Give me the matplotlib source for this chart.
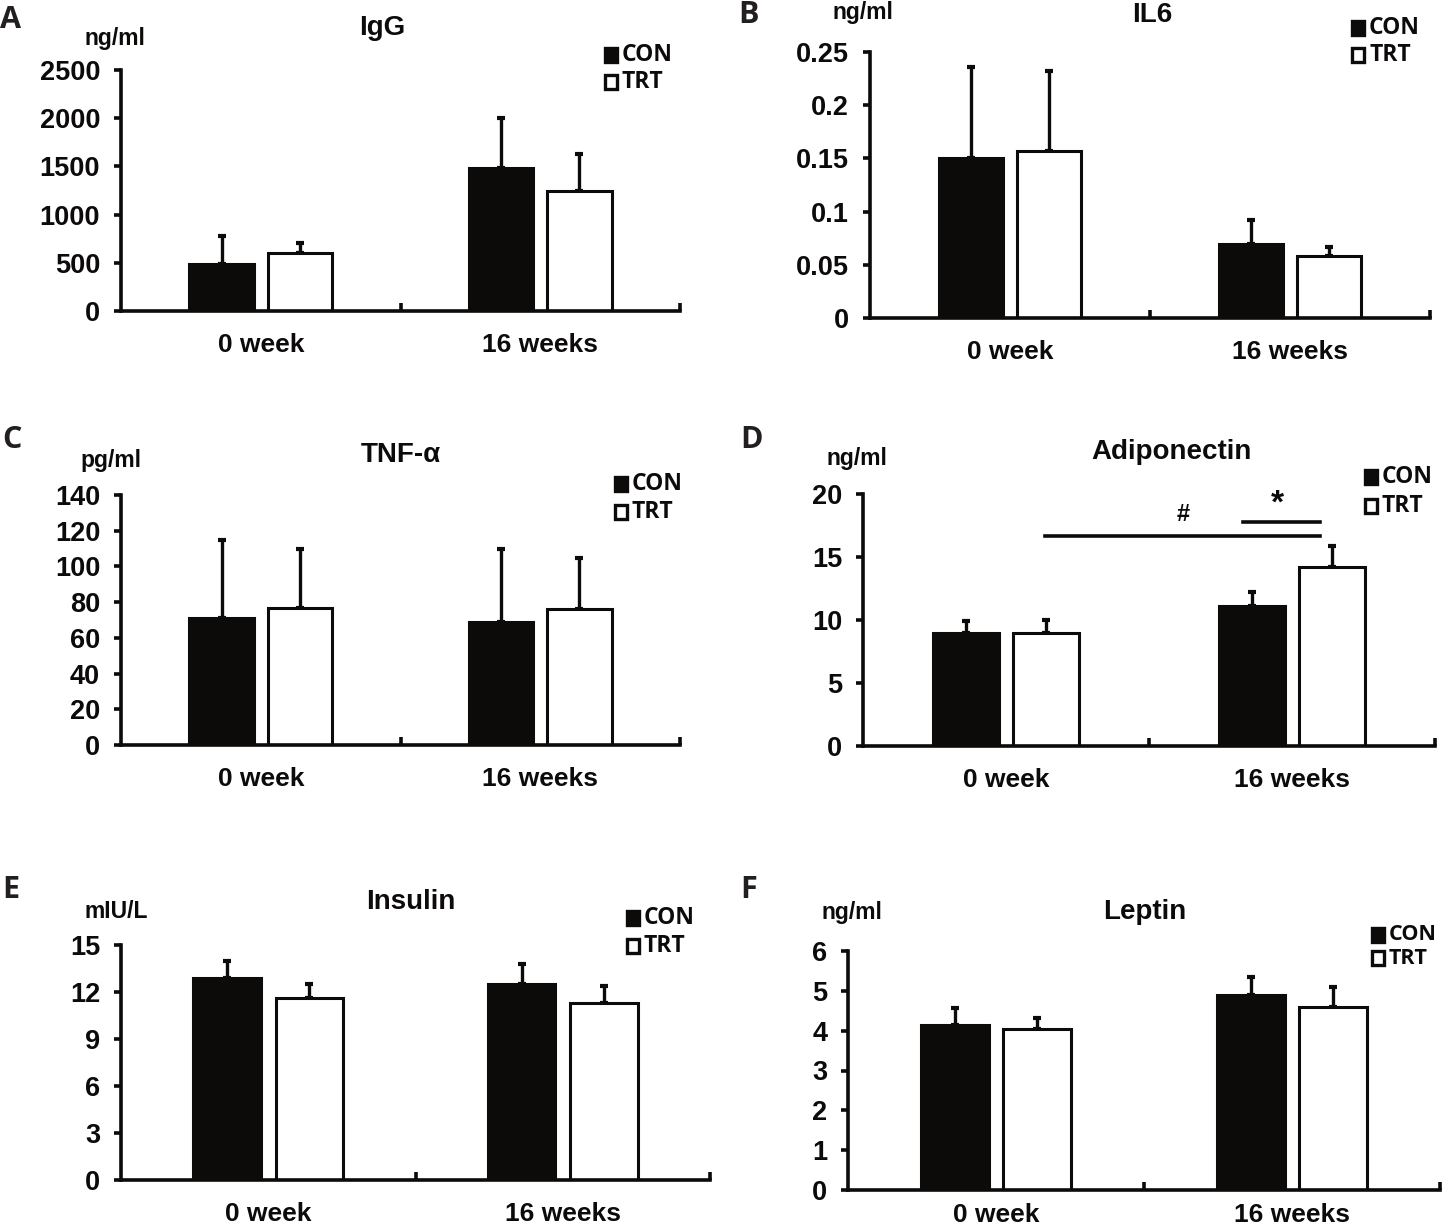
import matplotlib
matplotlib.use("Agg")
import matplotlib.pyplot as plt
from matplotlib.patches import Rectangle

W, H = 1450, 1230

groups = ["0 week", "16 weeks"]
series = ["CON", "TRT"]

# mean values and upper error (SEM) per panel, [0 week, 16 weeks]
igg_con, igg_con_err = [490, 1480], [290, 520]
igg_trt, igg_trt_err = [600, 1240], [105, 385]
il6_con, il6_con_err = [0.150, 0.070], [0.086, 0.022]
il6_trt, il6_trt_err = [0.157, 0.058], [0.075, 0.009]
tnf_con, tnf_con_err = [71, 69], [44, 41]
tnf_trt, tnf_trt_err = [77, 76], [33, 29]
adi_con, adi_con_err = [9.0, 11.1], [0.9, 1.1]
adi_trt, adi_trt_err = [9.0, 14.2], [1.0, 1.7]
ins_con, ins_con_err = [12.9, 12.5], [1.1, 1.3]
ins_trt, ins_trt_err = [11.6, 11.3], [0.9, 1.1]
lep_con, lep_con_err = [4.15, 4.9], [0.43, 0.45]
lep_trt, lep_trt_err = [4.05, 4.6], [0.27, 0.5]

igg_ticks = [0, 500, 1000, 1500, 2000, 2500]
il6_ticks = [0, 0.05, 0.1, 0.15, 0.2, 0.25]
il6_ticklabels = ["0", "0.05", "0.1", "0.15", "0.2", "0.25"]
tnf_ticks = [0, 20, 40, 60, 80, 100, 120, 140]
adi_ticks = [0, 5, 10, 15, 20]
ins_ticks = [0, 3, 6, 9, 12, 15]
lep_ticks = [0, 1, 2, 3, 4, 5, 6]

# significance marks in Adiponectin panel
sig_long_x, sig_long_y = [0.136, 1.098], 16.7
sig_short_x, sig_short_y = [0.829, 1.098], 17.8
sig_hash_xy = (0.62, 18.4)
sig_star_xy = (0.95, 19.2)

BOLD = ["Liberation Sans", "DejaVu Sans"]
LETTER = ["Open Sans", "DejaVu Sans"]
INK = "#0d0a0a"

fig = plt.figure(figsize=(W / 100, H / 100), dpi=100)


def fx(px):
    return px / W


def fy(py):
    return 1 - py / H


def panel(box, con, con_err, trt, trt_err, ticks, ticklabels, title, unit,
          letter, lay):
    left, right, y0, ytop = box
    ax = fig.add_axes([fx(left), fy(y0), fx(right - left), (y0 - ytop) / H])
    x = [0, 1]
    off, bw = 0.14, 0.23
    xc = [v - off for v in x]
    xt = [v + off for v in x]
    ax.bar(xc, con, bw, color=INK, edgecolor=INK, linewidth=2.2, zorder=2)
    ax.bar(xt, trt, bw, color="white", edgecolor=INK, linewidth=2.2, zorder=2)
    for xs, m, e in ((xc, con, con_err), (xt, trt, trt_err)):
        ax.errorbar(xs, m, yerr=[[0, 0], e], fmt="none", ecolor=INK,
                    elinewidth=2.4, capsize=3, capthick=3, zorder=1)
    ax.set_xlim(-0.5, 1.5)
    ax.set_ylim(ticks[0], ticks[-1])
    for s in ("top", "right"):
        ax.spines[s].set_visible(False)
    for s in ("left", "bottom"):
        ax.spines[s].set_linewidth(2.6)
        ax.spines[s].set_color(INK)
    ax.set_yticks(ticks)
    ax.set_yticklabels(ticklabels, fontfamily=BOLD, fontweight="bold",
                       fontsize=19.5, color=INK)
    ax.tick_params(axis="y", length=5, width=2.6, color=INK, pad=10)
    ax.set_xticks([0.5, 1.5])
    ax.set_xticklabels([])
    ax.tick_params(axis="x", direction="in", length=6, width=2.6, color=INK)
    ax.set_xticks(x, minor=True)
    ax.set_xticklabels(groups, minor=True, fontfamily=BOLD,
                       fontweight="bold", fontsize=19, color=INK)
    ax.tick_params(axis="x", which="minor", length=0, pad=lay["pad"])
    for t in ax.get_xticklines() + ax.get_yticklines():
        t.set_clip_on(False)

    tx, ty = lay["title"]
    fig.text(fx(tx), fy(ty), title, ha="center", va="center",
             fontfamily=BOLD, fontweight="bold", fontsize=20, color=INK)
    ux, uy = lay["unit"]
    fig.text(fx(ux), fy(uy), unit, ha="left", va="center",
             fontfamily=BOLD, fontweight="bold", fontsize=16.5, color=INK)
    lx, ly = lay["letter"]
    fig.text(fx(lx), fy(ly), letter, ha="left", va="center",
             fontfamily=LETTER, fontweight="bold", fontsize=22,
             color="#231f20")

    gx, gy1, gy2 = lay["legend"]
    for name, yy, fc in ((series[0], gy1, INK), (series[1], gy2, "white")):
        fig.add_artist(Rectangle((fx(gx), fy(yy + 7)), 12 / W, 14 / H,
                                 transform=fig.transFigure, facecolor=fc,
                                 edgecolor=INK, linewidth=2.4))
        fig.text(fx(gx + 17), fy(yy), name, ha="left", va="center",
                 fontfamily=LETTER, fontweight="bold",
                 fontsize=lay.get("lfs", 16.5), color=INK)
    return ax


panel((121, 680, 311, 70), igg_con, igg_con_err, igg_trt, igg_trt_err,
      igg_ticks, [str(t) for t in igg_ticks], "IgG", "ng/ml", "A",
      dict(title=(382, 28), unit=(84, 38), letter=(0, 20),
           legend=(605, 55, 82), pad=16))
panel((870, 1430, 318, 52), il6_con, il6_con_err, il6_trt, il6_trt_err,
      il6_ticks, il6_ticklabels, "IL6", "ng/ml", "B",
      dict(title=(1152, 15), unit=(833, 12), letter=(738, 15),
           legend=(1352, 28, 55), pad=16))
panel((121, 680, 745, 495), tnf_con, tnf_con_err, tnf_trt, tnf_trt_err,
      tnf_ticks, [str(t) for t in tnf_ticks], "TNF-α", "pg/ml", "C",
      dict(title=(401, 455), unit=(80, 460), letter=(2, 440),
           legend=(615, 484, 512), pad=16))
axd = panel((863, 1435, 746, 494), adi_con, adi_con_err, adi_trt, adi_trt_err,
            adi_ticks, [str(t) for t in adi_ticks], "Adiponectin", "ng/ml",
            "D",
            dict(title=(1172, 452), unit=(827, 458), letter=(740, 440),
                 legend=(1365, 477, 506), pad=16))
panel((121, 710, 1180, 945), ins_con, ins_con_err, ins_trt, ins_trt_err,
      ins_ticks, [str(t) for t in ins_ticks], "Insulin", "mIU/L", "E",
      dict(title=(411, 902), unit=(85, 912), letter=(2, 890),
           legend=(627, 918, 946), pad=16))
panel((848, 1440, 1190, 951), lep_con, lep_con_err, lep_trt, lep_trt_err,
      lep_ticks, [str(t) for t in lep_ticks], "Leptin", "ng/ml", "F",
      dict(title=(1145, 912), unit=(822, 913), letter=(740, 890),
           legend=(1372, 935, 958), pad=9, lfs=15.5))

axd.plot(sig_long_x, [sig_long_y] * 2, color=INK, linewidth=2.6,
         clip_on=False)
axd.plot(sig_short_x, [sig_short_y] * 2, color=INK, linewidth=2.6,
         clip_on=False)
axd.text(*sig_hash_xy, "#", ha="center", va="center", fontfamily=BOLD,
         fontweight="bold", fontsize=17, color=INK)
axd.text(*sig_star_xy, "*", ha="center", va="center", fontfamily=BOLD,
         fontweight="bold", fontsize=24, color=INK)

fig.savefig("out.png", dpi=100, facecolor="white")
